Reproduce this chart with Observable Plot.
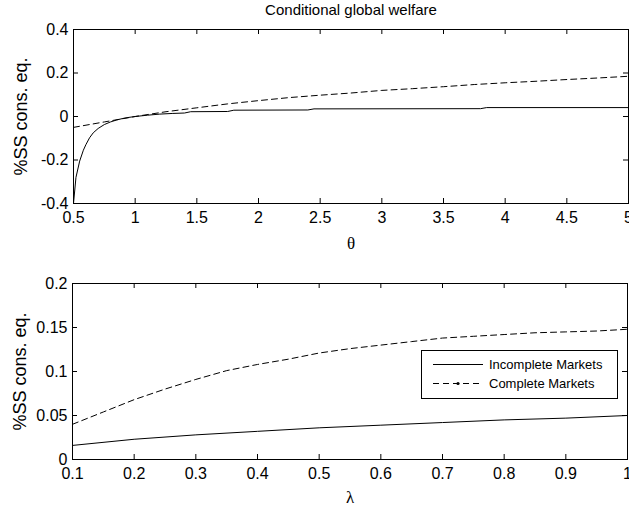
<!DOCTYPE html>
<html>
<head>
<meta charset="utf-8">
<script src="https://cdn.jsdelivr.net/npm/d3@7"></script>
<script src="https://cdn.jsdelivr.net/npm/@observablehq/plot@0.6"></script>
<style>
  html, body { margin: 0; padding: 0; background: white; }
  #wrap { position: relative; width: 629px; height: 506px; background: white; }
  #wrap svg { display: block; }
  #legend { position: absolute; left: 421px; top: 350px; width: 195px; height: 47px;
            border: 1px solid black; background: white; box-sizing: content-box; }
</style>
</head>
<body>
<div id="wrap"></div>
<script>
// ---- Data ----
const titleText = "Conditional global welfare";
const yLabelText = "%SS cons. eq.";
const thetaLabel = "θ";
const lambdaLabel = "λ";
const seriesNames = ["Incomplete Markets", "Complete Markets"];

// Top panel: welfare vs theta
const thetaIncomplete = [0.5, 0.52, 0.55, 0.58, 0.6, 0.63, 0.66, 0.7, 0.75, 0.8, 0.85, 0.9, 0.95, 1.0, 1.1, 1.2, 1.3, 1.4, 1.45, 1.75, 1.8, 2.4, 2.45, 3.8, 3.85, 5.0];
const incompleteTheta = [-0.40, -0.28, -0.205, -0.155, -0.13, -0.098, -0.075, -0.055, -0.037, -0.025, -0.016, -0.009, -0.004, 0.0, 0.006, 0.011, 0.014, 0.016, 0.022, 0.023, 0.029, 0.030, 0.035, 0.036, 0.041, 0.041];
const thetaComplete = [0.5, 0.75, 1.0, 1.25, 1.5, 1.75, 2.0, 2.25, 2.5, 2.75, 3.0, 3.25, 3.5, 3.75, 4.0, 4.25, 4.5, 4.75, 5.0];
const completeTheta = [-0.05, -0.025, 0.0, 0.022, 0.04, 0.058, 0.073, 0.087, 0.098, 0.108, 0.12, 0.128, 0.137, 0.147, 0.155, 0.162, 0.17, 0.177, 0.185];

// Bottom panel: welfare vs lambda
const lambdaIncomplete = [0.1, 0.2, 0.3, 0.4, 0.5, 0.6, 0.7, 0.8, 0.9, 1.0];
const incompleteLambda = [0.016, 0.023, 0.028, 0.032, 0.036, 0.039, 0.042, 0.045, 0.047, 0.050];
const lambdaComplete = [0.1, 0.15, 0.2, 0.25, 0.3, 0.35, 0.4, 0.45, 0.5, 0.55, 0.6, 0.65, 0.7, 0.75, 0.8, 0.85, 0.9, 0.95, 1.0];
const completeLambda = [0.040, 0.054, 0.068, 0.080, 0.091, 0.101, 0.108, 0.114, 0.121, 0.126, 0.130, 0.134, 0.138, 0.140, 0.142, 0.144, 0.145, 0.146, 0.148];

// Tick values
const thetaTicks = [0.5, 1, 1.5, 2, 2.5, 3, 3.5, 4, 4.5, 5];
const topYTicks = [-0.4, -0.2, 0, 0.2, 0.4];
const lambdaTicks = [0.1, 0.2, 0.3, 0.4, 0.5, 0.6, 0.7, 0.8, 0.9, 1];
const bottomYTicks = [0, 0.05, 0.1, 0.15, 0.2];

// ---- Helpers ----
const fmt = d => String(+(+d).toFixed(2));
const zip = (xs, ys) => xs.map((x, i) => ({x, y: ys[i]}));
const sans = "'Liberation Sans', Arial, Helvetica, sans-serif";
const serif = "'Liberation Serif', 'DejaVu Serif', serif";
const DASH = "6,4";
const TICK = 5;

function panel({width, height, ml, mr, mt, mb, xDomain, yDomain, xTicks, yTicks, lines, xLabel, title}) {
  const iw = width - ml - mr, ih = height - mt - mb;
  const marks = [
    Plot.axisX({ticks: xTicks, tickSize: 0, tickPadding: 8, tickFormat: fmt, label: null}),
    Plot.axisY({ticks: yTicks, tickSize: 0, tickPadding: 5, tickFormat: fmt, label: null}),
    Plot.tickX(xTicks, {x: d => d, insetTop: ih - TICK, stroke: "black"}),
    Plot.tickX(xTicks, {x: d => d, insetBottom: ih - TICK, stroke: "black"}),
    Plot.tickY(yTicks, {y: d => d, insetRight: iw - TICK, stroke: "black"}),
    Plot.tickY(yTicks, {y: d => d, insetLeft: iw - TICK, stroke: "black"}),
    ...lines,
    Plot.frame({stroke: "black", strokeWidth: 1}),
    Plot.text([xLabel.text], {frameAnchor: "bottom", dy: xLabel.dy, lineAnchor: "middle", textAnchor: "middle", fontFamily: serif, fontSize: 17, fill: "black"}),
    Plot.text([yLabelText], {frameAnchor: "left", dx: -52, rotate: -90, lineAnchor: "middle", textAnchor: "middle", fontSize: 18, fill: "black"})
  ];
  if (title) marks.push(Plot.text([title], {frameAnchor: "top", dy: -19, lineAnchor: "middle", textAnchor: "middle", fontSize: 15, fill: "black"}));
  return Plot.plot({
    width, height, marginLeft: ml, marginRight: mr, marginTop: mt, marginBottom: mb,
    style: {fontFamily: sans, fontSize: "16px", background: "white", color: "black", overflow: "visible"},
    x: {domain: xDomain},
    y: {domain: yDomain},
    marks
  });
}

const topChart = panel({
  width: 629, height: 260, ml: 73, mr: 1, mt: 29, mb: 57,
  xDomain: [0.5, 5], yDomain: [-0.4, 0.4], xTicks: thetaTicks, yTicks: topYTicks,
  lines: [
    Plot.line(zip(thetaIncomplete, incompleteTheta), {x: "x", y: "y", stroke: "black", strokeWidth: 1}),
    Plot.line(zip(thetaComplete, completeTheta), {x: "x", y: "y", stroke: "black", strokeWidth: 1, strokeDasharray: DASH})
  ],
  xLabel: {text: thetaLabel, dy: 40},
  title: titleText
});

const bottomChart = panel({
  width: 629, height: 246, ml: 72, mr: 2, mt: 23, mb: 47,
  xDomain: [0.1, 1], yDomain: [0, 0.2], xTicks: lambdaTicks, yTicks: bottomYTicks,
  lines: [
    Plot.line(zip(lambdaIncomplete, incompleteLambda), {x: "x", y: "y", stroke: "black", strokeWidth: 1}),
    Plot.line(zip(lambdaComplete, completeLambda), {x: "x", y: "y", stroke: "black", strokeWidth: 1, strokeDasharray: DASH})
  ],
  xLabel: {text: lambdaLabel, dy: 38}
});

const wrap = document.getElementById("wrap");
wrap.appendChild(topChart);
wrap.appendChild(bottomChart);

// Legend (inside lower panel, top-right)
const legend = document.createElement("div");
legend.id = "legend";
const ns = "http://www.w3.org/2000/svg";
const lsvg = document.createElementNS(ns, "svg");
lsvg.setAttribute("width", 195); lsvg.setAttribute("height", 47);
const rows = [{name: seriesNames[0], dash: null, y: 13.5}, {name: seriesNames[1], dash: DASH, y: 32.5}];
for (const r of rows) {
  const ln = document.createElementNS(ns, "line");
  ln.setAttribute("x1", 11); ln.setAttribute("x2", 61);
  ln.setAttribute("y1", r.y); ln.setAttribute("y2", r.y);
  ln.setAttribute("stroke", "black"); ln.setAttribute("stroke-width", 1);
  if (r.dash) ln.setAttribute("stroke-dasharray", r.dash);
  lsvg.appendChild(ln);
  if (r.dash) {
    const c = document.createElementNS(ns, "circle");
    c.setAttribute("cx", 36); c.setAttribute("cy", r.y); c.setAttribute("r", 1.6);
    c.setAttribute("fill", "black");
    lsvg.appendChild(c);
  }
  const t = document.createElementNS(ns, "text");
  t.setAttribute("x", 67); t.setAttribute("y", r.y);
  t.setAttribute("dy", "0.35em");
  t.setAttribute("font-family", sans); t.setAttribute("font-size", 13);
  t.textContent = r.name;
  lsvg.appendChild(t);
}
legend.appendChild(lsvg);
wrap.appendChild(legend);
</script>
</body>
</html>
